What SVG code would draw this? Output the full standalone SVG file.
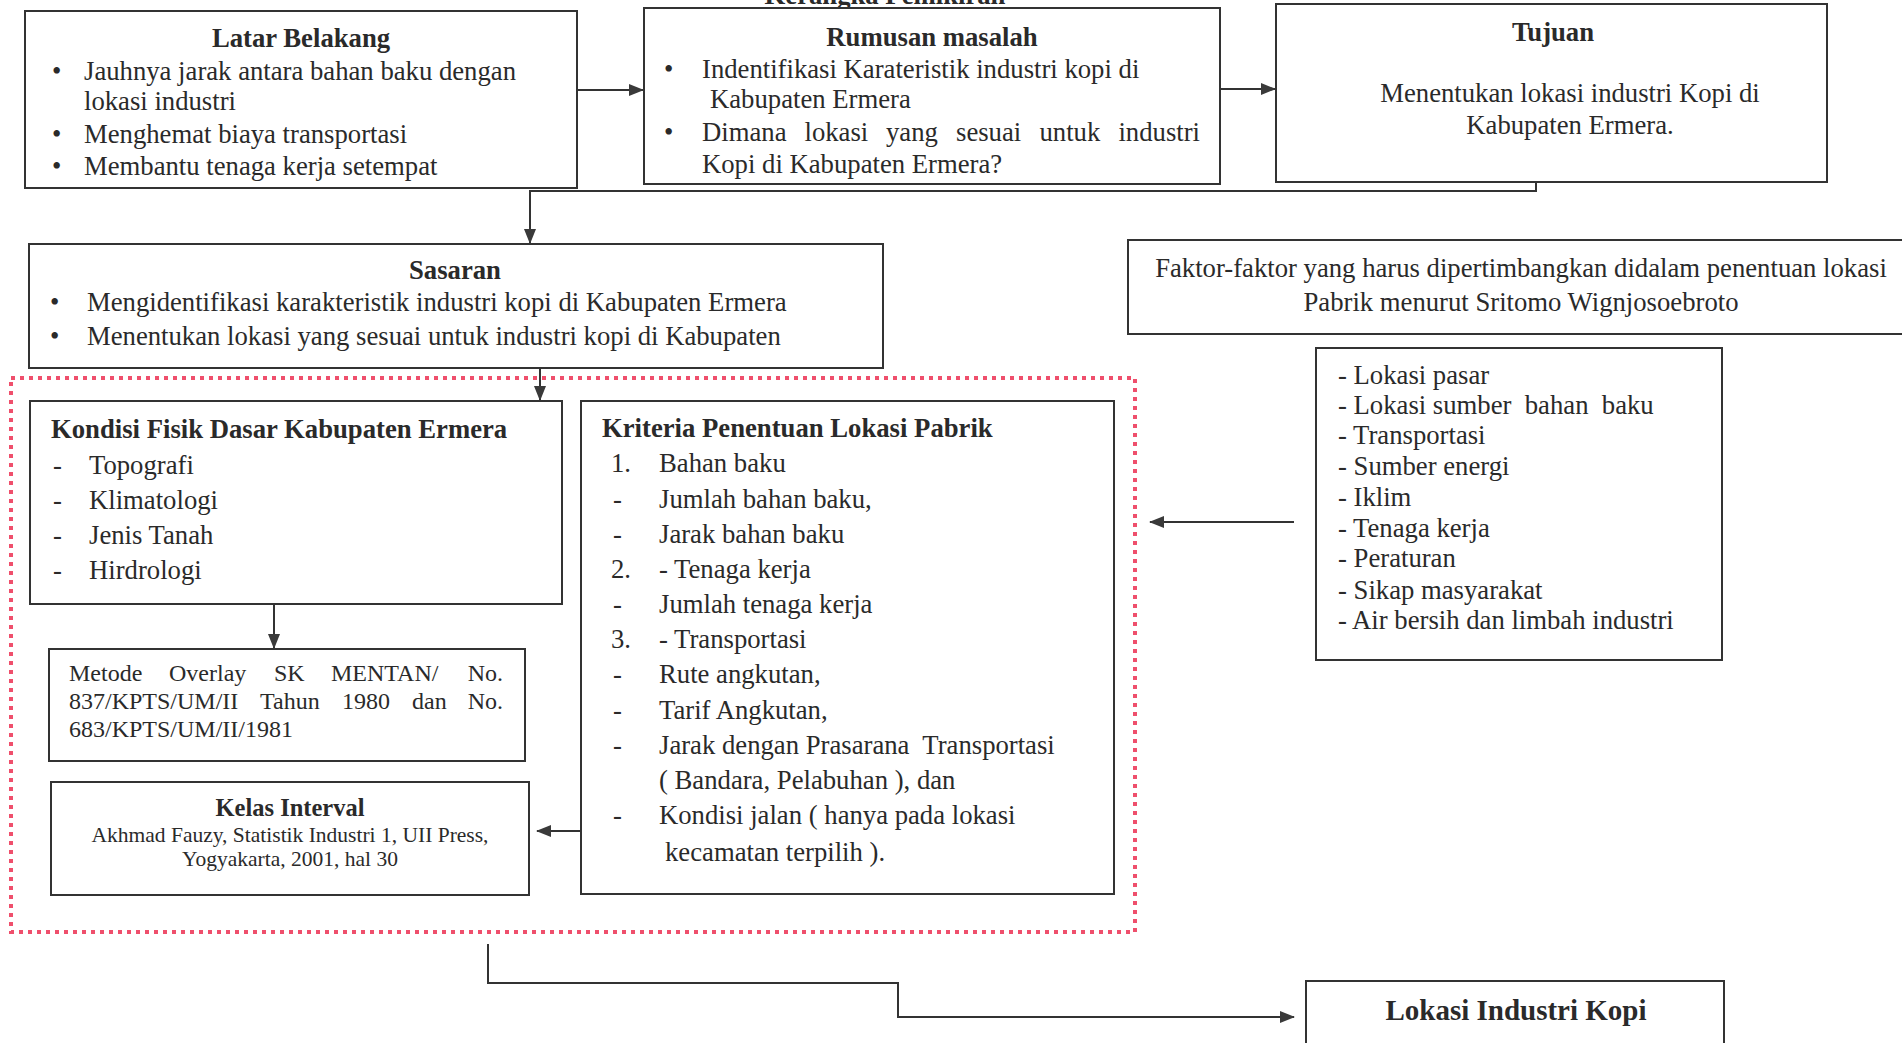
<svg xmlns="http://www.w3.org/2000/svg" width="1902" height="1043" viewBox="0 0 1902 1043">
<defs>
<marker id="ah" markerWidth="15" markerHeight="12" refX="14" refY="6" orient="auto" markerUnits="userSpaceOnUse">
<path d="M0,0 L15,6 L0,12 Z" fill="#3a3a3a"/>
</marker>
<style>
.box{fill:#fff;stroke:#333;stroke-width:2}
.t{font-family:"Liberation Serif","Times New Roman",serif;font-size:26.7px;fill:#2a2a2a}
.b{font-weight:bold}
.s{font-size:24px}
.xs{font-size:21.5px}
.k{font-size:24.5px}
.l{font-size:29px}
.c{text-anchor:middle}
.e{text-anchor:end}
.con{fill:none;stroke:#333;stroke-width:2}
.red{fill:none;stroke:#ef4f6c;stroke-width:4;stroke-dasharray:4 5}
</style>
</defs>
<rect width="1902" height="1043" fill="#fff"/>
<text class="t b c" x="885" y="4">Kerangka Pemikiran</text>

<g id="red-frame"><rect class="red" x="11" y="378" width="1124" height="554"/></g>

<g id="latar-belakang">
<rect class="box" x="25" y="11" width="552" height="177"/>
<text class="t b c" x="301" y="47">Latar Belakang</text>
<text class="t" x="52" y="80">•</text><text class="t" x="84" y="80">Jauhnya jarak antara bahan baku dengan</text>
<text class="t" x="84" y="110">lokasi industri</text>
<text class="t" x="52" y="143">•</text><text class="t" x="84" y="143">Menghemat biaya transportasi</text>
<text class="t" x="52" y="175">•</text><text class="t" x="84" y="175">Membantu tenaga kerja setempat</text>
</g>

<g id="rumusan-masalah">
<rect class="box" x="644" y="8" width="576" height="176"/>
<text class="t b c" x="932" y="46">Rumusan masalah</text>
<text class="t" x="664" y="78">•</text><text class="t" x="702" y="78">Indentifikasi Karateristik industri kopi di</text>
<text class="t" x="710" y="108">Kabupaten Ermera</text>
<text class="t" x="664" y="141">•</text>
<text class="t" y="141"><tspan x="702">Dimana</tspan><tspan x="804.5">lokasi</tspan><tspan x="886">yang</tspan><tspan x="956">sesuai</tspan><tspan x="1039.5">untuk</tspan></text>
<text class="t e" x="1200" y="141">industri</text>
<text class="t" x="702" y="173">Kopi di Kabupaten Ermera?</text>
</g>

<g id="tujuan">
<rect class="box" x="1276" y="4" width="551" height="178"/>
<text class="t b c" x="1553" y="41">Tujuan</text>
<text class="t c" x="1570" y="102">Menentukan lokasi industri Kopi di</text>
<text class="t c" x="1570" y="134">Kabupaten Ermera.</text>
</g>

<g id="sasaran">
<rect class="box" x="29" y="244" width="854" height="124"/>
<text class="t b c" x="455" y="279">Sasaran</text>
<text class="t" x="50" y="311">•</text><text class="t" x="87" y="311">Mengidentifikasi karakteristik industri kopi di Kabupaten Ermera</text>
<text class="t" x="50" y="345">•</text><text class="t" x="87" y="345">Menentukan lokasi yang sesuai untuk industri kopi di Kabupaten</text>
</g>

<g id="faktor">
<rect class="box" x="1128" y="240" width="800" height="94"/>
<text class="t c" x="1521" y="277">Faktor-faktor yang harus dipertimbangkan didalam penentuan lokasi</text>
<text class="t c" x="1521" y="311">Pabrik menurut Sritomo Wignjosoebroto</text>
</g>

<g id="daftar-faktor">
<rect class="box" x="1316" y="348" width="406" height="312"/>
<text class="t" x="1338" y="384">- Lokasi pasar</text>
<text class="t" x="1338" y="414" xml:space="preserve">- Lokasi sumber  bahan  baku</text>
<text class="t" x="1338" y="444">- Transportasi</text>
<text class="t" x="1338" y="475">- Sumber energi</text>
<text class="t" x="1338" y="506">- Iklim</text>
<text class="t" x="1338" y="537">- Tenaga kerja</text>
<text class="t" x="1338" y="567">- Peraturan</text>
<text class="t" x="1338" y="599">- Sikap masyarakat</text>
<text class="t" x="1338" y="629">- Air bersih dan limbah industri</text>
</g>

<g id="kondisi-fisik">
<rect class="box" x="30" y="401" width="532" height="203"/>
<text class="t b" x="51" y="438">Kondisi Fisik Dasar Kabupaten Ermera</text>
<text class="t" x="53" y="474">-</text><text class="t" x="89" y="474">Topografi</text>
<text class="t" x="53" y="509">-</text><text class="t" x="89" y="509">Klimatologi</text>
<text class="t" x="53" y="544">-</text><text class="t" x="89" y="544">Jenis Tanah</text>
<text class="t" x="53" y="579">-</text><text class="t" x="89" y="579">Hirdrologi</text>
</g>

<g id="metode-overlay">
<rect class="box" x="49" y="649" width="476" height="112"/>
<text class="t s" y="681"><tspan x="69">Metode</tspan><tspan x="169">Overlay</tspan><tspan x="274">SK</tspan><tspan x="331">MENTAN/</tspan></text>
<text class="t s e" x="503" y="681">No.</text>
<text class="t s" y="709"><tspan x="69">837/KPTS/UM/II</tspan><tspan x="260">Tahun</tspan><tspan x="342">1980</tspan><tspan x="412">dan</tspan></text>
<text class="t s e" x="503" y="709">No.</text>
<text class="t s" x="69" y="737">683/KPTS/UM/II/1981</text>
</g>

<g id="kelas-interval">
<rect class="box" x="51" y="782" width="478" height="113"/>
<text class="t k b c" x="290" y="816">Kelas Interval</text>
<text class="t xs c" x="290" y="842">Akhmad Fauzy, Statistik Industri 1, UII Press,</text>
<text class="t xs c" x="290" y="866">Yogyakarta, 2001, hal 30</text>
</g>

<g id="kriteria">
<rect class="box" x="581" y="401" width="533" height="493"/>
<text class="t b" x="602" y="437">Kriteria Penentuan Lokasi Pabrik</text>
<text class="t" x="611" y="472">1.</text><text class="t" x="659" y="472">Bahan baku</text>
<text class="t" x="613" y="508">-</text><text class="t" x="659" y="508">Jumlah bahan baku,</text>
<text class="t" x="613" y="543">-</text><text class="t" x="659" y="543">Jarak bahan baku</text>
<text class="t" x="611" y="578">2.</text><text class="t" x="659" y="578">- Tenaga kerja</text>
<text class="t" x="613" y="613">-</text><text class="t" x="659" y="613">Jumlah tenaga kerja</text>
<text class="t" x="611" y="648">3.</text><text class="t" x="659" y="648">- Transportasi</text>
<text class="t" x="613" y="683">-</text><text class="t" x="659" y="683">Rute angkutan,</text>
<text class="t" x="613" y="719">-</text><text class="t" x="659" y="719">Tarif Angkutan,</text>
<text class="t" x="613" y="754">-</text><text class="t" x="659" y="754" xml:space="preserve">Jarak dengan Prasarana  Transportasi</text>
<text class="t" x="659" y="789">( Bandara, Pelabuhan ), dan</text>
<text class="t" x="613" y="824">-</text><text class="t" x="659" y="824">Kondisi jalan ( hanya pada lokasi</text>
<text class="t" x="665" y="861">kecamatan terpilih ).</text>
</g>

<g id="lokasi-industri-kopi">
<rect class="box" x="1306" y="981" width="418" height="80"/>
<text class="t l b c" x="1516" y="1020">Lokasi Industri Kopi</text>
</g>

<g id="connectors">
<path class="con" d="M577,90 H643" marker-end="url(#ah)"/>
<path class="con" d="M1220,89 H1275" marker-end="url(#ah)"/>
<path class="con" d="M1536,182 V191 H530 V243" marker-end="url(#ah)"/>
<path class="con" d="M540,368 V400" marker-end="url(#ah)"/>
<path class="con" d="M274,604 V648" marker-end="url(#ah)"/>
<path class="con" d="M580,831 H537" marker-end="url(#ah)"/>
<path class="con" d="M1294,522 H1150" marker-end="url(#ah)"/>
<path class="con" d="M488,944 V983 H898 V1017 H1294" marker-end="url(#ah)"/>
</g>
</svg>
